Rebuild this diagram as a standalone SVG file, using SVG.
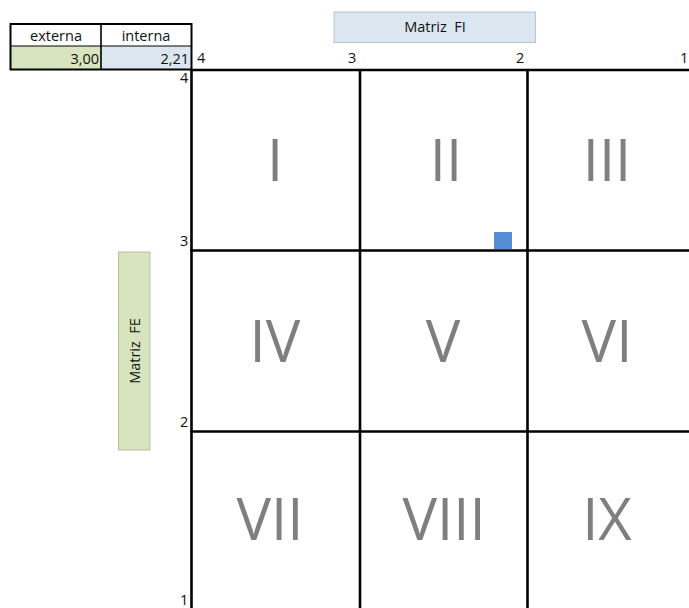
<svg xmlns="http://www.w3.org/2000/svg" width="689" height="608" viewBox="0 0 689 608">
<style>
.t{font-family:"Open Sans","Liberation Sans",Arial,sans-serif;font-size:14.5px;fill:#111}
.r{font-family:"Open Sans","Liberation Sans",sans-serif;font-weight:400;font-size:58px;fill:#7f7f7f;text-anchor:middle}
.g{stroke:#000;stroke-width:2.6;fill:none}
</style>
<rect width="689" height="608" fill="#fff"/>
<g id="table">
<rect x="11" y="46" width="90" height="23" fill="#d7e4bd"/>
<rect x="101" y="46" width="90" height="23" fill="#dce6f1"/>
<rect x="10.5" y="24" width="181" height="45.5" fill="none" stroke="#000" stroke-width="2"/>
<line x1="10.5" y1="46" x2="191.5" y2="46" stroke="#000" stroke-width="1"/>
<line x1="101" y1="24" x2="101" y2="69.5" stroke="#000" stroke-width="1.6"/>
<text class="t" x="56" y="40.5" text-anchor="middle">externa</text>
<text class="t" x="146" y="40.5" text-anchor="middle">interna</text>
<text class="t" x="99" y="63.5" text-anchor="end">3,00</text>
<text class="t" x="189" y="63.5" text-anchor="end">2,21</text>
</g>
<g id="fi-label">
<rect x="334" y="12" width="201.5" height="30.5" fill="#dce6f1" stroke="#b8c4d2" stroke-width="1"/>
<text class="t" x="435" y="32" text-anchor="middle" xml:space="preserve">Matriz  FI</text>
</g>
<g id="fe-label">
<rect x="118.5" y="252" width="31.5" height="198" fill="#d7e4bd" stroke="#b6bfa8" stroke-width="1"/>
<text class="t" transform="translate(139.5,351) rotate(-90)" text-anchor="middle" xml:space="preserve">Matriz  FE</text>
</g>
<g id="axis-labels">
<text class="t" x="197" y="62.5">4</text>
<text class="t" x="348" y="62.5">3</text>
<text class="t" x="516" y="62.5">2</text>
<text class="t" x="680" y="62.5">1</text>
<text class="t" x="180" y="83">4</text>
<text class="t" x="180" y="246">3</text>
<text class="t" x="180" y="427">2</text>
<text class="t" x="180" y="605">1</text>
</g>
<g id="connectors">
<line class="g" x1="191.5" y1="69" x2="191.5" y2="608"/>
<line class="g" x1="360" y1="70" x2="360" y2="608"/>
<line class="g" x1="527.5" y1="70" x2="527.5" y2="608"/>
<line class="g" x1="190" y1="70" x2="689" y2="70"/>
<line class="g" x1="190" y1="250.5" x2="689" y2="250.5"/>
<line class="g" x1="190" y1="431.5" x2="689" y2="431.5"/>
</g>
<g id="cells">
<text class="r" x="275" y="181">I</text>
<text class="r" x="446" y="181">II</text>
<text class="r" x="607" y="181">III</text>
<text class="r" x="275" y="362">IV</text>
<text class="r" x="443" y="362">V</text>
<text class="r" x="607" y="362">VI</text>
<text class="r" x="270" y="540">VII</text>
<text class="r" x="444" y="540">VIII</text>
<text class="r" x="607" y="540">IX</text>
</g>
<g id="point">
<rect x="494" y="232" width="18" height="17" fill="#558ed5"/>
</g>
</svg>
